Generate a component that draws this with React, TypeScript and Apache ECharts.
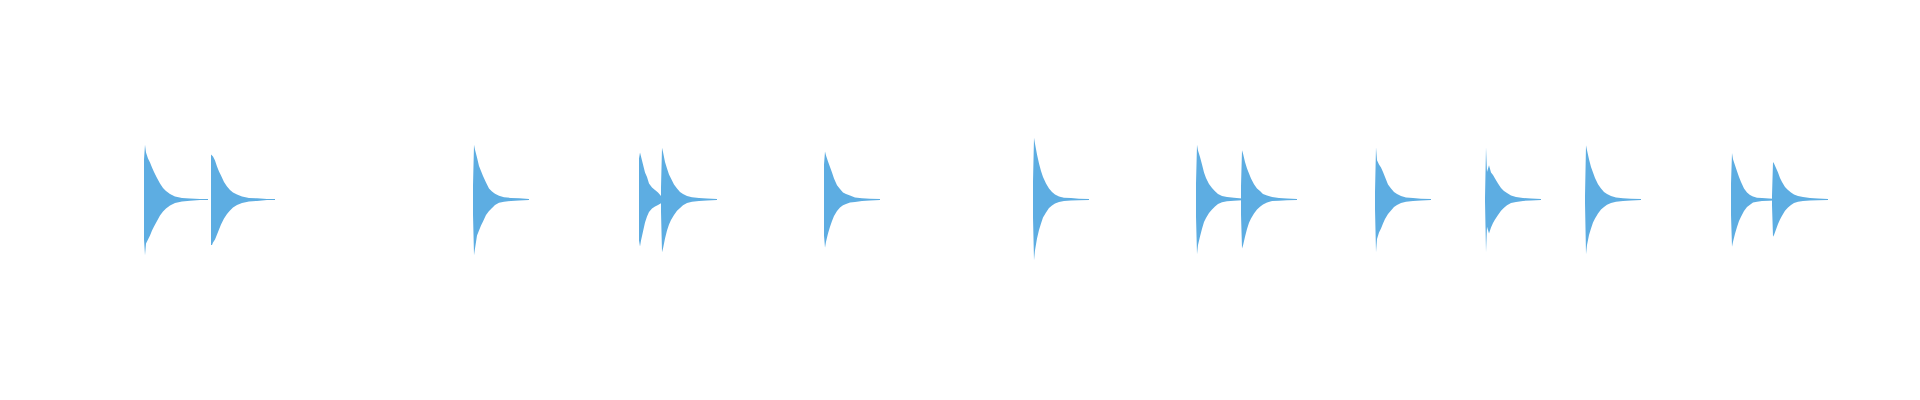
import { useEffect, useRef } from 'react';
import * as echarts from 'echarts';

// ─── Data ─────────────────────────────────────────────────────────────────────
// Waveform of 14 percussive hits. Time in ms, amplitude in per-mille of full scale.

const hitOnsetsMs = [
  1440, 2110, 4730, 6390, 6610, 8240, 10330, 11960, 12410, 13750, 14850, 15850, 17310, 17720,
];

// envelope sample times, relative to each onset
const envelopeOffsetsMs = [0, 10, 20, 40, 60, 80, 100, 130, 160, 190, 220, 260, 310, 380, 460, 560, 640];

const upperEnvelopes = [
  [200, 275, 235, 205, 185, 160, 138, 108, 80, 58, 43, 28, 15, 8, 5, 3, 3],
  [225, 220, 215, 195, 165, 140, 120, 88, 65, 48, 35, 25, 15, 8, 6, 3, 3],
  [70, 275, 250, 210, 168, 143, 118, 85, 55, 40, 29, 19, 11, 8, 6, 3],
  [205, 235, 215, 175, 135, 113, 80, 60, 48, 35, 18],
  [60, 260, 238, 188, 155, 125, 105, 75, 55, 38, 27, 18, 11, 7, 5, 3],
  [175, 240, 220, 190, 163, 135, 105, 72, 53, 35, 27, 20, 10, 6, 4, 3],
  [90, 310, 280, 225, 180, 143, 113, 80, 55, 38, 25, 15, 9, 7, 4, 3],
  [80, 275, 245, 213, 175, 135, 108, 78, 58, 41, 28, 17, 13, 9, 5],
  [68, 247, 230, 188, 155, 130, 105, 77, 55, 42, 28, 20, 13, 8, 5, 3],
  [38, 262, 197, 175, 160, 138, 113, 75, 55, 38, 27, 17, 10, 7, 4, 3],
  [8, 262, 138, 172, 135, 123, 105, 80, 58, 43, 32, 20, 12, 8, 5, 3],
  [17, 272, 247, 202, 163, 135, 108, 77, 55, 38, 27, 17, 10, 6, 4, 3],
  [80, 233, 202, 172, 142, 113, 88, 55, 35, 23, 15, 9, 7, 5, 3],
  [18, 188, 180, 158, 135, 108, 88, 63, 47, 35, 25, 17, 12, 8, 5, 3],
];

const lowerEnvelopes = [
  [200, 280, 220, 200, 180, 155, 135, 108, 80, 60, 45, 30, 18, 10, 6, 3, 3],
  [228, 228, 215, 200, 175, 150, 125, 95, 73, 55, 40, 28, 18, 10, 7, 3, 3],
  [75, 280, 245, 180, 155, 130, 110, 78, 58, 42, 28, 16, 11, 7, 5, 3],
  [205, 235, 205, 160, 115, 85, 63, 45, 35, 28, 19],
  [60, 265, 245, 195, 155, 125, 103, 78, 57, 43, 29, 18, 11, 7, 5, 3],
  [180, 242, 212, 170, 137, 108, 83, 58, 40, 29, 22, 15, 12, 8, 5, 3],
  [90, 305, 255, 195, 153, 120, 90, 65, 43, 30, 20, 12, 8, 5, 4, 3],
  [85, 275, 228, 185, 147, 113, 93, 68, 50, 35, 23, 14, 9, 6, 4],
  [75, 245, 230, 187, 148, 117, 95, 70, 50, 36, 25, 15, 8, 6, 4, 3],
  [48, 265, 198, 165, 145, 120, 98, 73, 55, 38, 28, 18, 11, 7, 5, 3],
  [9, 265, 137, 170, 140, 118, 100, 78, 57, 41, 29, 18, 12, 7, 5, 3],
  [17, 275, 228, 178, 145, 115, 95, 70, 50, 37, 26, 18, 11, 7, 5, 3],
  [78, 237, 212, 172, 138, 108, 87, 58, 37, 26, 15, 11, 8, 6, 4],
  [29, 187, 178, 150, 123, 100, 82, 57, 40, 27, 17, 11, 7, 5, 4, 3],
];

const WAVE_COLOR = '#5dade2';

// ─── Option builder ───────────────────────────────────────────────────────────

function envelopeSeries(onset: number, amps: number[], sign: 1 | -1): echarts.LineSeriesOption {
  return {
    type: 'line',
    data: amps.map((a, i) => [onset + envelopeOffsetsMs[i], sign * a]),
    symbol: 'none',
    silent: true,
    lineStyle: { width: 0 },
    // fill a hair past zero so the upper and lower halves overlap (no seam)
    areaStyle: { color: WAVE_COLOR, opacity: 1, origin: -sign * 3 },
  };
}

function buildOption(): echarts.EChartsOption {
  const series: echarts.LineSeriesOption[] = [];
  hitOnsetsMs.forEach((onset, i) => {
    series.push(envelopeSeries(onset, upperEnvelopes[i], 1));
    series.push(envelopeSeries(onset, lowerEnvelopes[i], -1));
  });

  return {
    animation: false,
    backgroundColor: '#ffffff',
    grid: { left: 0, right: 0, top: 0, bottom: 1 },
    xAxis: { type: 'value', min: 0, max: 19200, show: false },
    yAxis: { type: 'value', min: -1000, max: 1000, show: false },
    series,
  };
}

// ─── App ──────────────────────────────────────────────────────────────────────

export default function App() {
  const ref = useRef<HTMLDivElement>(null);

  useEffect(() => {
    if (!ref.current) return;
    const chart = echarts.init(ref.current, null, { renderer: 'svg' });
    chart.setOption(buildOption());
    return () => chart.dispose();
  }, []);

  return (
    <div
      ref={ref}
      style={{ position: 'fixed', left: 0, top: 0, width: 1920, height: 400, background: '#fff' }}
    />
  );
}
